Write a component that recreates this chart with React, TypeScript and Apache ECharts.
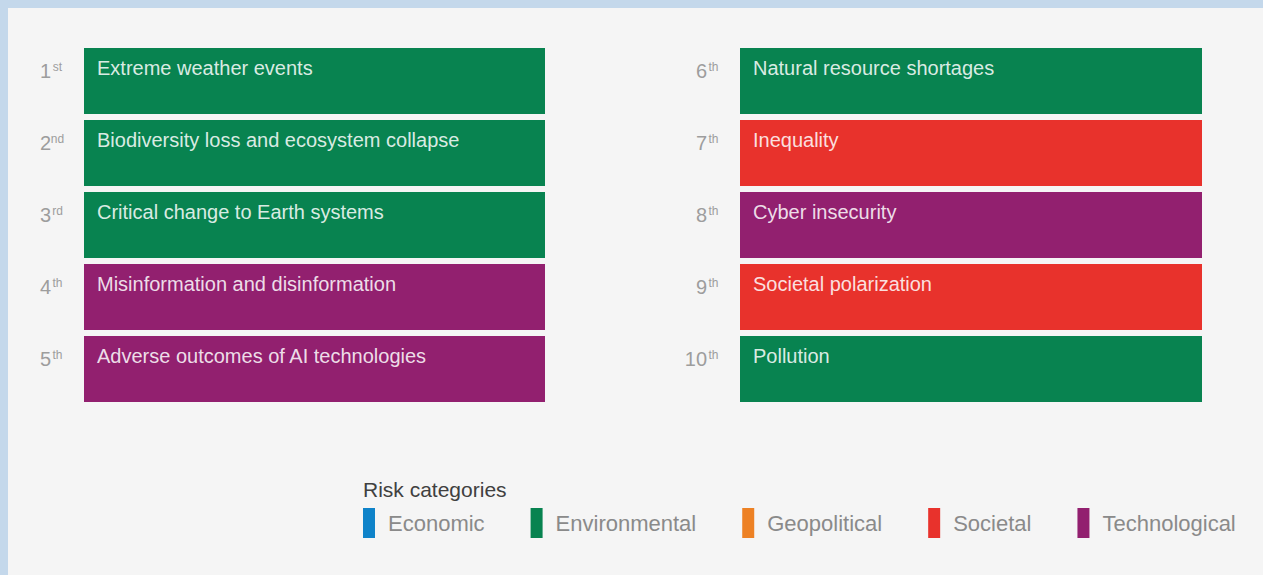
import React, { useEffect, useRef } from "react";
import * as echarts from "echarts";

const riskCategories = ["Economic", "Environmental", "Geopolitical", "Societal", "Technological"];
const categoryColors = ["#0f83c9", "#088350", "#ed8124", "#e8322c", "#92206f"];

const ranks = ["1", "2", "3", "4", "5", "6", "7", "8", "9", "10"];
const rankSuffixes = ["st", "nd", "rd", "th", "th", "th", "th", "th", "th", "th"];
const risks = [
  "Extreme weather events",
  "Biodiversity loss and ecosystem collapse",
  "Critical change to Earth systems",
  "Misinformation and disinformation",
  "Adverse outcomes of AI technologies",
  "Natural resource shortages",
  "Inequality",
  "Cyber insecurity",
  "Societal polarization",
  "Pollution",
];
const riskCategoryOf = [
  "Environmental",
  "Environmental",
  "Environmental",
  "Technological",
  "Technological",
  "Environmental",
  "Societal",
  "Technological",
  "Societal",
  "Environmental",
];

const FONT = "'Liberation Sans', Arial, Helvetica, sans-serif";

export default function App() {
  const ref = useRef<HTMLDivElement>(null);

  useEffect(() => {
    if (!ref.current) return;
    const chart = echarts.init(ref.current, undefined, { renderer: "svg" });

    const columns = [0, 1].map((c) => ({
      idx: [0, 1, 2, 3, 4].map((i) => c * 5 + i),
    }));

    const grids = [
      { left: 76, top: 37, width: 461, height: 360 },
      { left: 732, top: 37, width: 462, height: 360 },
    ];

    const xAxes = grids.map((_, g) => ({
      gridIndex: g,
      type: "value",
      min: 0,
      max: 1,
      show: false,
    }));

    const yAxes = columns.map((col, g) => ({
      gridIndex: g,
      type: "category",
      inverse: true,
      data: col.idx.map((i) => ranks[i]),
      axisLine: { show: false },
      axisTick: { show: false },
      splitLine: { show: false },
      axisLabel: {
        margin: 20,
        padding: [0, 0, 20, 0],
        formatter: (v: string) => {
          const i = ranks.indexOf(v);
          return `{n|${v}}{s|${rankSuffixes[i]}}`;
        },
        rich: {
          n: { fontSize: 20, lineHeight: 20, color: "#9d9d9d", fontFamily: FONT },
          s: {
            fontSize: 12,
            lineHeight: 12,
            color: "#9d9d9d",
            fontFamily: FONT,
            verticalAlign: "top",
            width: 13,
            align: "left",
          },
        },
      },
    }));

    const series: any[] = [];
    riskCategories.forEach((cat, ci) => {
      columns.forEach((col, g) => {
        series.push({
          name: cat,
          type: "bar",
          xAxisIndex: g,
          yAxisIndex: g,
          barWidth: 66,
          barGap: "-100%",
          color: categoryColors[ci],
          itemStyle: { color: categoryColors[ci] },
          silent: true,
          data: col.idx.map((i) =>
            riskCategoryOf[i] === cat ? { value: 1, name: risks[i] } : "-"
          ),
          label: {
            show: true,
            position: [13, 10],
            align: "left",
            verticalAlign: "top",
            formatter: (p: any) => p.name,
            color: "rgba(255,255,255,0.86)",
            fontSize: 20,
            lineHeight: 20,
            fontFamily: FONT,
          },
        });
      });
    });

    chart.setOption({
      animation: false,
      backgroundColor: "#f5f5f5",
      title: {
        text: "Risk categories",
        left: 355,
        top: 471,
        padding: 0,
        textStyle: {
          fontSize: 21,
          fontWeight: "normal",
          color: "#404040",
          fontFamily: FONT,
        },
      },
      legend: {
        left: 355,
        top: 500,
        padding: 0,
        itemWidth: 12,
        itemHeight: 30,
        itemGap: 46,
        icon: "rect",
        selectedMode: false,
        data: riskCategories.map((c, i) => ({ name: c, itemStyle: { color: categoryColors[i] } })),
        textStyle: {
          fontSize: 22,
          color: "#8a8a8a",
          fontFamily: FONT,
          padding: [0, 0, 0, 8],
        },
      },
      grid: grids,
      xAxis: xAxes,
      yAxis: yAxes,
      series,
    });

    return () => chart.dispose();
  }, []);

  return (
    <div
      style={{
        position: "fixed",
        left: 0,
        top: 0,
        width: 1263,
        height: 575,
        background: "#c4d8eb",
        overflow: "hidden",
      }}
    >
      <div
        ref={ref}
        style={{ position: "absolute", left: 8, top: 8, width: 1255, height: 567 }}
      />
    </div>
  );
}
